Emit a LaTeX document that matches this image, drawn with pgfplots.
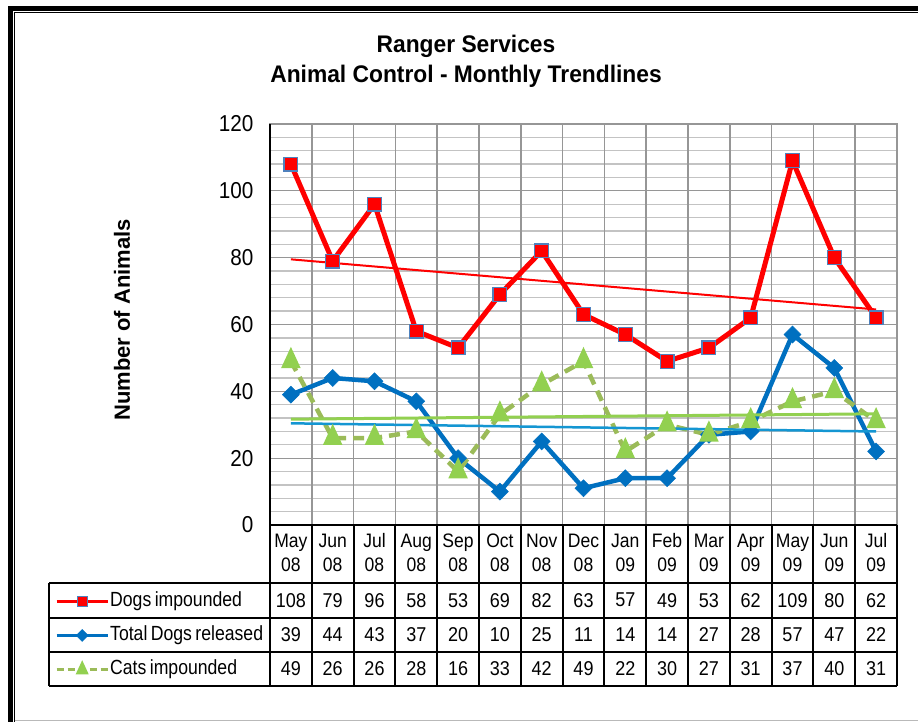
\documentclass[border=0pt]{standalone}
\usepackage{pgfplots}
\pgfplotsset{compat=1.18}
\usepackage{pgfplotstable}
\usepackage{fontspec}
\setmainfont{Liberation Sans}
\newfontfamily\narrow[FakeStretch=0.9]{Liberation Sans}
\newfontfamily\legfont[FakeStretch=0.86, WordSpace=0.7]{Liberation Sans}
\newfontfamily\titlefont[FakeStretch=0.95]{Liberation Sans}
\definecolor{dogred}{RGB}{255,0,0}
\definecolor{dogedge}{RGB}{79,129,189}
\definecolor{relblue}{RGB}{0,112,192}
\definecolor{catline}{RGB}{155,187,89}
\definecolor{catmark}{RGB}{146,208,80}
\definecolor{trendblue}{RGB}{20,150,210}
\definecolor{gridmajor}{RGB}{150,150,150}
\definecolor{gridminor}{RGB}{195,195,195}

\pgfplotstableread{
x dogs rel cats
0 108 39 49
1 79 44 26
2 96 43 26
3 58 37 28
4 53 20 16
5 69 10 33
6 82 25 42
7 63 11 49
8 57 14 22
9 49 14 30
10 53 27 27
11 62 28 31
12 109 57 37
13 80 47 40
14 62 22 31
}\datatable

% linear trendlines (least squares fit end points)
\pgfplotstableread{
x y
0 79.5
14 64.5
}\trenddogs
\pgfplotstableread{
x y
0 30.43
14 27.98
}\trendrel
\pgfplotstableread{
x y
0 31.67
14 33.27
}\trendcats

\begin{document}
\begin{tikzpicture}
\useasboundingbox (0,0) rectangle (918bp,722bp);
\fill[white] (0,0) rectangle (918bp,722bp);
% outer frame
\draw[line width=5bp] (10.5bp,0) -- (10.5bp,713.5bp) -- (918bp,713.5bp);
\draw[line width=1bp] (14.5bp,0) -- (14.5bp,709.5bp) -- (918bp,709.5bp);
\draw[gray!55, line width=1bp] (14.5bp,1.5bp) -- (918bp,1.5bp);

% title
\node[font=\titlefont\bfseries\fontsize{24bp}{28bp}\selectfont] at (466bp,676bp) {Ranger Services};
\node[font=\titlefont\bfseries\fontsize{24bp}{28bp}\selectfont] at (466bp,646bp) {Animal Control - Monthly Trendlines};
% y label
\node[rotate=90, font=\bfseries\fontsize{22bp}{26bp}\selectfont] at (122bp,402bp) {Number of Animals};

\begin{axis}[
  at={(270bp,197bp)}, anchor=south west,
  scale only axis, width=627bp, height=401bp,
  xmin=-0.5, xmax=14.5, ymin=0, ymax=120,
  ytick={0,20,...,120}, minor ytick={4,8,...,116},
  ymajorgrids, yminorgrids,
  major grid style={gridmajor, line width=1.3bp},
  minor grid style={gridminor, line width=1.3bp},
  xtick={0,...,14},
  xticklabels={May\\08,Jun\\08,Jul\\08,Aug\\08,Sep\\08,Oct\\08,Nov\\08,Dec\\08,Jan\\09,Feb\\09,Mar\\09,Apr\\09,May\\09,Jun\\09,Jul\\09},
  extra x ticks={0.5,1.5,...,13.5}, extra x tick labels={},
  extra x tick style={grid=major, major grid style={gridmajor, line width=1.5bp}},
  major tick length=0pt, minor tick length=0pt,
  axis line style={gridmajor, line width=1.3bp},
  /pgf/number format/assume math mode=true,
  yticklabel style={font=\narrow\fontsize{23bp}{26bp}\selectfont, xshift=-13bp},
  xticklabel style={font=\narrow\fontsize{19.5bp}{24bp}\selectfont, align=center, anchor=center, yshift=-28bp},
  legend cell align=left,
  legend image code/.code={\draw[mark repeat=2,mark phase=2,#1] plot coordinates {(0bp,0bp) (25.5bp,0bp) (51bp,0bp)};},
  legend style={at={(-0.3429,-0.167)}, anchor=north west, draw=none, fill=none,
    inner sep=0pt, /tikz/column sep=1bp, /tikz/row sep=16.3bp,
    nodes={font=\legfont\fontsize{20.5bp}{24bp}\selectfont, inner sep=0pt, text height=14bp, text depth=4bp}},
]
\addplot[dogred, line width=5bp, mark=square*, mark size=6.9bp,
  mark options={solid, fill=dogred, draw=dogedge, line width=1.2bp},
  legend image post style={line width=3bp, mark size=5bp}]
  table[x=x, y=dogs] {\datatable};
\addlegendentry{Dogs impounded}
\addplot[relblue, line width=4.5bp, mark=square*, mark size=6bp,
  mark options={solid, fill=relblue, draw=relblue, rotate=45, line width=0.5bp},
  legend image post style={line width=3bp, mark size=4.2bp}]
  table[x=x, y=rel] {\datatable};
\addlegendentry{Total Dogs released}
\addplot[catline, line width=4.5bp, dash pattern=on 11bp off 7bp, mark=triangle*, mark size=9bp,
  mark options={solid, fill=catmark, draw=catmark, xscale=0.8},
  legend image post style={line width=3bp, mark size=6bp, dash pattern=on 7bp off 4bp}]
  table[x=x, y=cats] {\datatable};
\addlegendentry{Cats impounded}
\addplot[forget plot, dogred, line width=2bp] table[x=x, y=y] {\trenddogs};
\addplot[forget plot, trendblue, line width=2.5bp] table[x=x, y=y] {\trendrel};
\addplot[forget plot, catmark, line width=3bp] table[x=x, y=y] {\trendcats};
\end{axis}

% data values of the table
\begin{axis}[
  at={(270bp,36bp)}, anchor=south west,
  scale only axis, width=627bp, height=103bp,
  xmin=-0.5, xmax=14.5, ymin=0, ymax=3,
  hide axis, clip=false,
  nodes near coords align={center},
  every node near coord/.append style={font=\narrow\fontsize{20bp}{24bp}\selectfont, text=black, inner sep=0pt},
  /pgf/number format/assume math mode=true,
]
\addplot[draw=none, mark=none, nodes near coords, point meta=explicit] table[x=x, y expr=2.5, meta=dogs] {\datatable};
\addplot[draw=none, mark=none, nodes near coords, point meta=explicit] table[x=x, y expr=1.5, meta=rel] {\datatable};
\addplot[draw=none, mark=none, nodes near coords, point meta=explicit] table[x=x, y expr=0.5, meta=cats] {\datatable};
\end{axis}

% black axis line and table rules
\draw[line width=2bp] (270bp,197bp) -- (270bp,598bp);
\draw[line width=2bp] (270bp,197bp) -- (897bp,197bp);
\foreach \yy in {139,104,70,36} {\draw[line width=2bp] (49bp,\yy bp) -- (897bp,\yy bp);}
\draw[line width=2bp] (49bp,36bp) -- (49bp,139bp);
\foreach \k in {0,...,15} {\draw[line width=2bp] ({(270+41.8*\k)*1bp},36bp) -- ({(270+41.8*\k)*1bp},197bp);}
\end{tikzpicture}
\end{document}
